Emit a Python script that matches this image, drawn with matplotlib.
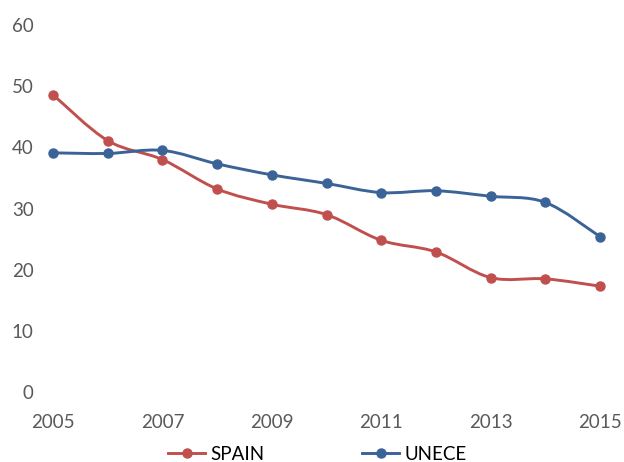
import numpy as np
import matplotlib
matplotlib.use("Agg")
import matplotlib.pyplot as plt
from matplotlib.path import Path
from matplotlib.patches import PathPatch
from matplotlib.lines import Line2D

years = [2005, 2006, 2007, 2008, 2009, 2010, 2011, 2012, 2013, 2014, 2015]
spain = [48.6, 41.1, 38.0, 33.2, 30.7, 29.0, 24.8, 22.9, 18.7, 18.5, 17.3]
unece = [39.1, 39.0, 39.5, 37.3, 35.5, 34.1, 32.6, 32.9, 32.0, 31.0, 25.4]
x_ticks = [2005, 2007, 2009, 2011, 2013, 2015]
y_ticks = [0, 10, 20, 30, 40, 50, 60]

red = "#C0504D"
blue = "#3A6397"
gray = "#595959"
plt.rcParams["font.family"] = ["Lato", "DejaVu Sans"]


def smooth_path(xs, ys):
    # Excel style smoothed line: cubic bezier through points (catmull-rom)
    xs = np.asarray(xs, float)
    ys = np.asarray(ys, float)
    n = len(xs)
    verts = [(xs[0], ys[0])]
    codes = [Path.MOVETO]
    for i in range(n - 1):
        p0 = np.array([xs[max(i - 1, 0)], ys[max(i - 1, 0)]])
        p1 = np.array([xs[i], ys[i]])
        p2 = np.array([xs[i + 1], ys[i + 1]])
        p3 = np.array([xs[min(i + 2, n - 1)], ys[min(i + 2, n - 1)]])
        c1 = p1 + (p2 - p0) / 6.0
        c2 = p2 - (p3 - p1) / 6.0
        verts += [tuple(c1), tuple(c2), tuple(p2)]
        codes += [Path.CURVE4] * 3
    return Path(verts, codes)


fig = plt.figure(figsize=(6.24, 4.62), dpi=100)
ax = fig.add_axes([53 / 624, 1 - 392 / 462, (600 - 53) / 624, (392 - 25) / 462])

for vals, col in [(spain, red), (unece, blue)]:
    ax.add_patch(PathPatch(smooth_path(years, vals), facecolor="none",
                           edgecolor=col, lw=2.1, capstyle="round", zorder=2))
    ax.plot(years, vals, "o", color=col, markersize=6.5, zorder=3, clip_on=False)

ax.set_xlim(2005, 2015)
ax.set_ylim(0, 60)
ax.set_xticks(x_ticks)
ax.set_yticks(y_ticks)
for s in ax.spines.values():
    s.set_visible(False)
ax.tick_params(axis="both", length=0, labelsize=13.5, labelcolor=gray)
ax.tick_params(axis="x", pad=16)
ax.tick_params(axis="y", pad=14)

handles = [
    Line2D([], [], color=red, lw=2.1, marker="o", markersize=6.5),
    Line2D([], [], color=blue, lw=2.1, marker="o", markersize=6.5),
]
fig.legend(handles, ["SPAIN", "UNECE"], loc="center", ncol=2,
           bbox_to_anchor=(0.509, 0.017), frameon=False, fontsize=13.5,
           handlelength=1.95, handletextpad=0.3, columnspacing=5.2)

fig.savefig("out.png", dpi=100)
